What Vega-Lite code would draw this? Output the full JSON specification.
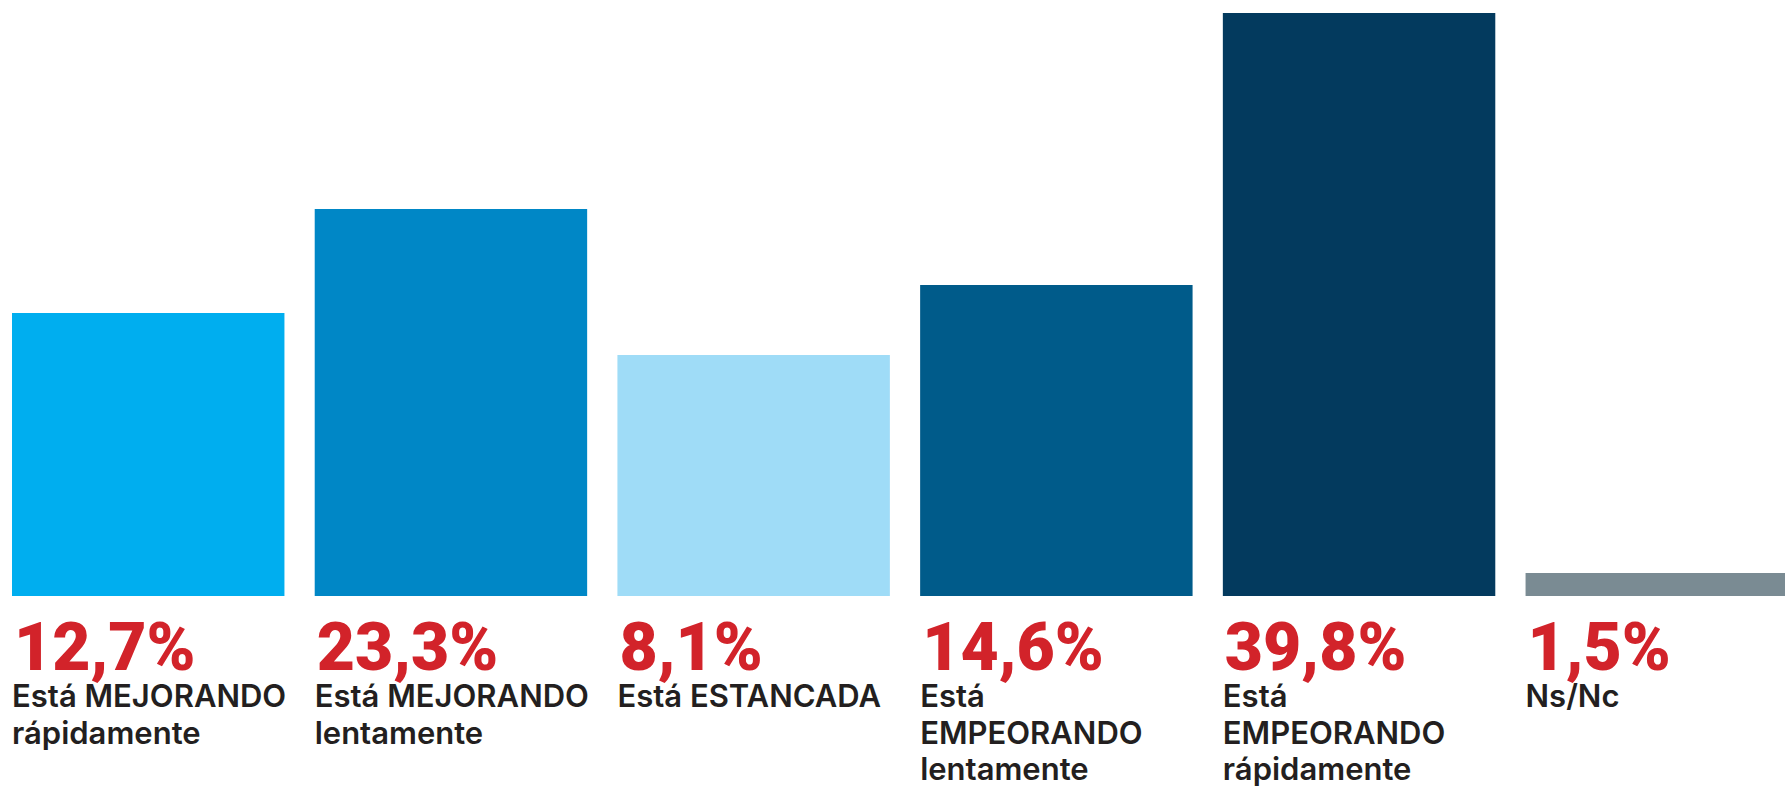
{
  "$schema": "https://vega.github.io/schema/vega-lite/v6.json",
  "width": 1785,
  "height": 787,
  "padding": 0,
  "autosize": {"type": "none"},
  "background": "white",
  "config": {"view": {"stroke": null}},
  "data": {
    "values": [
      {"cat": "mejorando_rapido", "pct": "12,7%", "etiqueta": "Está MEJORANDO\nrápidamente", "alto": 283},
      {"cat": "mejorando_lento", "pct": "23,3%", "etiqueta": "Está MEJORANDO\nlentamente", "alto": 387},
      {"cat": "estancada", "pct": "8,1%", "etiqueta": "Está ESTANCADA", "alto": 241},
      {"cat": "empeorando_lento", "pct": "14,6%", "etiqueta": "Está\nEMPEORANDO\nlentamente", "alto": 311},
      {"cat": "empeorando_rapido", "pct": "39,8%", "etiqueta": "Está\nEMPEORANDO\nrápidamente", "alto": 583},
      {"cat": "nsnc", "pct": "1,5%", "etiqueta": "Ns/Nc", "alto": 23}
    ]
  },
  "encoding": {
    "x": {
      "field": "cat",
      "type": "nominal",
      "sort": null,
      "axis": null,
      "scale": {"range": [12, 1798], "paddingInner": 0.1, "paddingOuter": 0}
    }
  },
  "layer": [
    {
      "mark": {"type": "bar", "cornerRadius": 0},
      "encoding": {
        "y": {"field": "alto", "type": "quantitative", "axis": null, "scale": {"domain": [0, 583], "range": [596, 13], "nice": false, "zero": true}},
        "color": {
          "field": "cat",
          "type": "nominal",
          "legend": null,
          "scale": {
            "domain": ["mejorando_rapido", "mejorando_lento", "estancada", "empeorando_lento", "empeorando_rapido", "nsnc"],
            "range": ["#00AEEF", "#0087C6", "#9FDCF7", "#005B8A", "#033A5E", "#7A8B93"]
          }
        }
      }
    },
    {
      "mark": {"type": "text", "align": "left", "baseline": "alphabetic", "dx": 2, "dy": 74, "font": "Roboto", "fontWeight": 900, "fontSize": 66, "color": "#D2232A"},
      "encoding": {
        "x": {"field": "cat", "type": "nominal", "sort": null, "bandPosition": 0},
        "y": {"datum": 0, "type": "quantitative"},
        "text": {"field": "pct"}
      }
    },
    {
      "mark": {"type": "text", "align": "left", "baseline": "alphabetic", "dx": 0, "dy": 111, "font": "Inter", "fontWeight": 600, "fontSize": 31, "lineHeight": 36.5, "lineBreak": "\n", "color": "#231F20"},
      "encoding": {
        "x": {"field": "cat", "type": "nominal", "sort": null, "bandPosition": 0},
        "y": {"datum": 0, "type": "quantitative"},
        "text": {"field": "etiqueta"}
      }
    }
  ]
}
